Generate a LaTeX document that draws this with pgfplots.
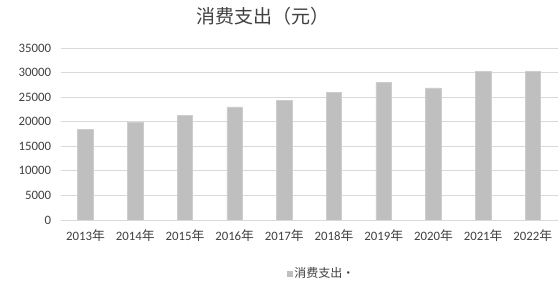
\documentclass[border=0pt]{standalone}
\usepackage{pgfplots}
\pgfplotsset{compat=1.18}
\usepackage{fontspec}
\setmainfont{Carlito}
\newfontfamily\cjk{Noto Sans CJK SC}
\definecolor{barc}{RGB}{191,191,191}
\definecolor{barb}{RGB}{205,205,205}
\definecolor{gridc}{RGB}{217,217,217}
\definecolor{txt}{RGB}{64,64,64}
\begin{document}
\begin{tikzpicture}
\useasboundingbox (0,0) rectangle (560bp,283bp);
\begin{axis}[
  at={(60.7bp,63bp)}, anchor=south west,
  scale only axis, width=497bp, height=172bp,
  ybar, bar width=15.5bp,
  xmin=-0.5, xmax=9.5, ymin=0, ymax=35000,
  ytick={0,5000,...,35000},
  xtick={0,...,9},
  xticklabels={2013{\cjk 年},2014{\cjk 年},2015{\cjk 年},2016{\cjk 年},2017{\cjk 年},2018{\cjk 年},2019{\cjk 年},2020{\cjk 年},2021{\cjk 年},2022{\cjk 年}},
  scaled y ticks=false,
  /pgf/number format/assume math mode=true,
  yticklabel={\pgfmathprintnumber[fixed,1000 sep={}]{\tick}},
  major tick length=0pt,
  axis line style={draw=none},
  ymajorgrids, grid style={gridc, line width=0.75bp},
  tick label style={font=\fontsize{12.8bp}{15bp}\selectfont, text=txt},
  yticklabel style={xshift=-6bp},
  xticklabel style={yshift=-6bp},
  legend style={draw=none, fill=none, at={(0.525,-0.31)}, anchor=center,
    font=\cjk\fontsize{12bp}{14bp}\selectfont, text=txt,
    legend cell align=left, inner sep=0pt},
  legend image code/.code={\fill[barc] (0bp,-2.5bp) rectangle (5bp,2.5bp);},
]
\addplot[fill=barc, draw=barb, line width=0.6bp] coordinates {
  (0,18400) (1,19900) (2,21300) (3,23000) (4,24300)
  (5,26000) (6,28000) (7,26900) (8,30200) (9,30300)};
\addlegendentry{消费支出·}
\end{axis}
\node[font=\cjk\fontsize{19bp}{22bp}\selectfont, text=txt] at (263bp,267bp) {消费支出（元）};
\end{tikzpicture}
\end{document}
